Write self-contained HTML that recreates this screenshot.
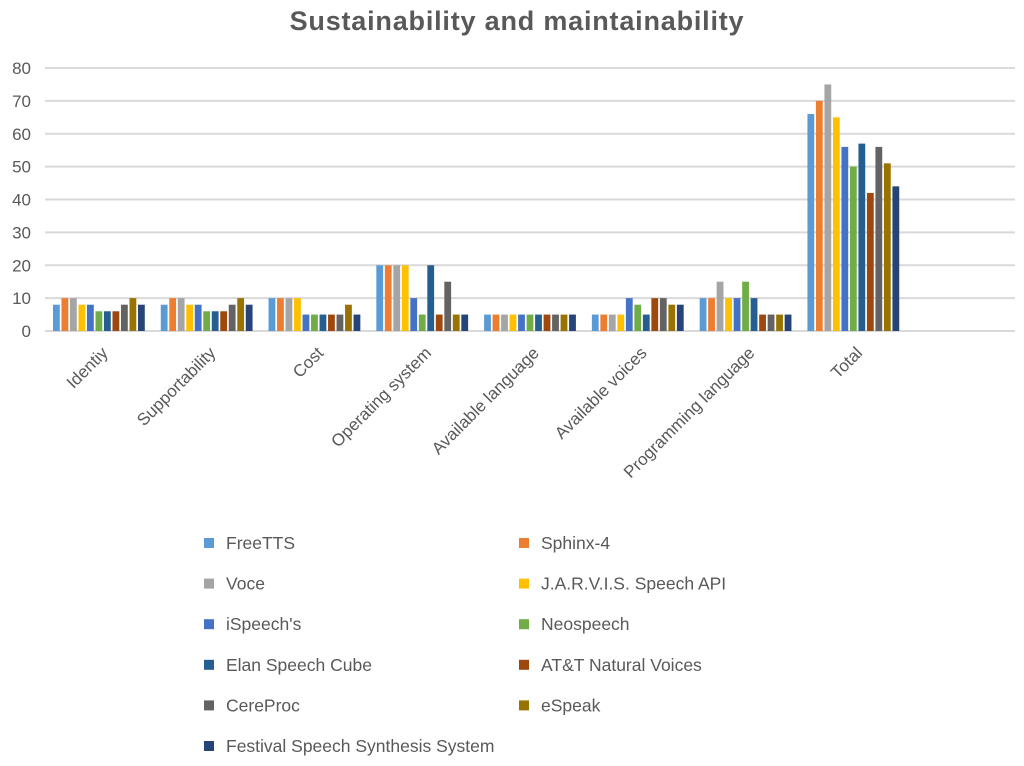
<!DOCTYPE html>
<html><head><meta charset="utf-8"><style>
body{margin:0;background:#fff;font-family:"Liberation Sans",sans-serif}
svg text{font-family:"Liberation Sans",sans-serif;fill:#595959}
</style></head><body>
<svg id="c" width="1024" height="761">
<text x="517" y="30" text-anchor="middle" font-size="27" font-weight="bold" letter-spacing="0.8">Sustainability and maintainability</text>
<g id="grid"></g><g id="bars"></g><g id="labels"></g><g id="legend"></g>
</svg>
<script>
const categories=["Identiy","Supportability","Cost","Operating system","Available language","Available voices","Programming language","Total"];
const seriesNames=["FreeTTS","Sphinx-4","Voce","J.A.R.V.I.S. Speech API","iSpeech's","Neospeech","Elan Speech Cube","AT&T Natural Voices","CereProc","eSpeak","Festival Speech Synthesis System"];
const colors=["#5B9BD5","#ED7D31","#A5A5A5","#FFC000","#4472C4","#70AD47","#255E91","#9E480E","#636363","#997300","#264478"];
const s0=[8,8,10,20,5,5,10,66];
const s1=[10,10,10,20,5,5,10,70];
const s2=[10,10,10,20,5,5,15,75];
const s3=[8,8,10,20,5,5,10,65];
const s4=[8,8,5,10,5,10,10,56];
const s5=[6,6,5,5,5,8,15,50];
const s6=[6,6,5,20,5,5,10,57];
const s7=[6,6,5,5,5,10,5,42];
const s8=[8,8,5,15,5,10,5,56];
const s9=[10,10,8,5,5,8,5,51];
const s10=[8,8,5,5,5,8,5,44];
const series=[s0,s1,s2,s3,s4,s5,s6,s7,s8,s9,s10];
const yTicks=[0,10,20,30,40,50,60,70,80];
const NS="http://www.w3.org/2000/svg";
const x0=45,x1=1015,nSlots=9,yBase=331,yTop=68,yMax=80;
const slot=(x1-x0)/nSlots;
const y=v=>yBase-(yBase-yTop)*v/yMax;
function mk(t,a,p){const e=document.createElementNS(NS,t);for(const k in a)e.setAttribute(k,a[k]);p.appendChild(e);return e;}
const g=document.getElementById('grid');
yTicks.forEach(t=>{
 const l=mk('line',{x1:x0,x2:x1,y1:y(t),y2:y(t),stroke:'#d9d9d9','stroke-width':2},g);
 
 
 const tx=mk('text',{x:31,y:y(t)+6,'text-anchor':'end','font-size':17},g);tx.textContent=t;
 
 
});
const b=document.getElementById('bars');
const pitch=8.5,bw=6.8;
categories.forEach((c,i)=>{
 const cx=x0+slot*(i+0.5);
 series.forEach((s,j)=>{
  const bx=cx-pitch*5.5+j*pitch+(pitch-bw)/2;
  const r=mk('rect',{x:bx,y:y(s[i]),width:bw,height:yBase-y(s[i]),fill:colors[j]},b);
  
  
 });
 const t=mk('text',{x:cx+10,y:354,'text-anchor':'end','font-size':17,transform:`rotate(-45 ${cx+10} 354)`},document.getElementById('labels'));
 t.textContent=c;
 
 
});
const lg=document.getElementById('legend');
seriesNames.forEach((n,j)=>{
 const col=j%2,row=Math.floor(j/2);
 const lx=col?524:209, ly=543+row*40.6;
 const gg=mk('g',{},lg);
 
 
 mk('rect',{x:lx-5,y:ly-5,width:10,height:10,fill:colors[j]},gg);
 const t=mk('text',{x:lx+17,y:ly+6,'font-size':17.5},gg);t.textContent=n;
});
</script>
</body></html>
